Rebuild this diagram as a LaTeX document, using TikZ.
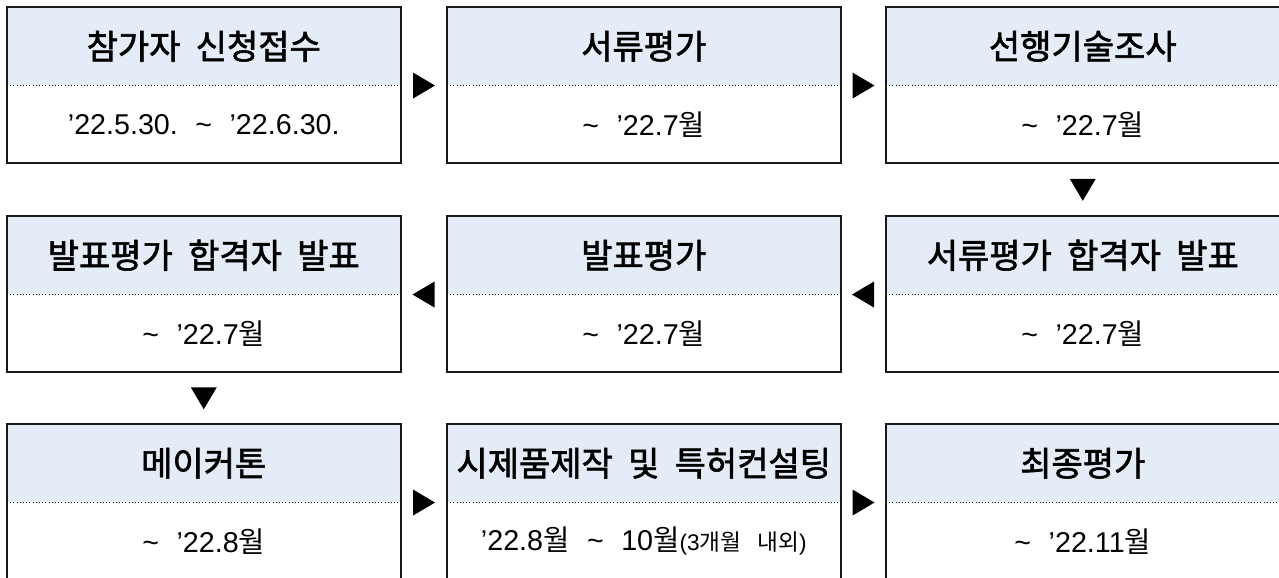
\documentclass[tikz,border=0pt]{standalone}
\usepackage{fontspec}
\setmainfont{Liberation Sans}[WordSpace=2.2]
\newfontfamily\kr{Noto Sans CJK KR}
\newfontfamily\krhead{Noto Sans CJK KR}[WordSpace=2,FakeBold=1.8]
\usetikzlibrary{calc,shapes.geometric}
\definecolor{headblue}{HTML}{E4ECF7}
\newcommand\swung{\textasciitilde}
\newcommand\wol{{\kr 월}}
\tikzset{
  head/.style={fill=headblue, anchor=north west, minimum width=294.75pt,
    minimum height=58.5pt, inner sep=0pt,
    font=\krhead\fontsize{25.5}{29}\selectfont},
  body/.style={fill=white, anchor=north, minimum width=294.75pt,
    minimum height=57.75pt, inner sep=0pt, font=\fontsize{21.5}{25}\selectfont},
  frame/.style={line width=1.5pt, draw=black!90},
  sep/.style={line width=0.8pt, dash pattern=on 0.8pt off 1.6pt},
  tri/.style={isosceles triangle, isosceles triangle stretches, fill=black,
    inner sep=0pt, minimum width=19.5pt, minimum height=16.5pt,
    anchor=lower side}
}
\begin{document}
\begin{tikzpicture}[x=0.75pt,y=-0.75pt]
  \useasboundingbox (0,0) rectangle (1279,578);

  % boxes: name/x/y/title/date
  \foreach \n/\x/\y/\t/\d in {
    s1/7/7/참가자 신청접수/{’22.5.30.\ \swung\ ’22.6.30.},
    s2/447/7/서류평가/{\swung\ ’22.7\wol},
    s3/886/7/선행기술조사/{\swung\ ’22.7\wol},
    s4/886/216/서류평가 합격자 발표/{\swung\ ’22.7\wol},
    s5/447/216/발표평가/{\swung\ ’22.7\wol},
    s6/7/216/발표평가 합격자 발표/{\swung\ ’22.7\wol},
    s7/7/424/메이커톤/{\swung\ ’22.8\wol},
    s8/447/424/시제품제작 및 특허컨설팅/{’22.8\wol\ \swung\ 10\wol{\fontsize{17}{20}\selectfont(3{\kr 개월\hspace{0.7em}내외})}},
    s9/886/424/최종평가/{\swung\ ’22.11\wol}}{
    \node[head] (\n-h) at (\x,\y) {\t};
    \node[body] (\n-b) at (\n-h.south) {\d};
    \draw[sep] (\n-h.south west) -- (\n-h.south east);
    \draw[frame] (\n-h.north west) rectangle (\n-b.south east);
  }

  \node[tri] (t12) at ($(s1-h.south east)!0.5!(s2-h.south west)+(-11,0)$) {};
  \node[tri] (t23) at ($(s2-h.south east)!0.5!(s3-h.south west)+(-11,0)$) {};
  \node[tri, shape border rotate=-90] (t34) at ($(s3-b.south)!0.5!(s4-h.north)+(0,-11)$) {};
  \node[tri, shape border rotate=180] (t45) at ($(s5-h.south east)!0.5!(s4-h.south west)+(11,0)$) {};
  \node[tri, shape border rotate=180] (t56) at ($(s6-h.south east)!0.5!(s5-h.south west)+(11,0)$) {};
  \node[tri, shape border rotate=-90] (t67) at ($(s6-b.south)!0.5!(s7-h.north)+(0,-11)$) {};
  \node[tri] (t78) at ($(s7-h.south east)!0.5!(s8-h.south west)+(-11,0)$) {};
  \node[tri] (t89) at ($(s8-h.south east)!0.5!(s9-h.south west)+(-11,0)$) {};
\end{tikzpicture}
\end{document}
